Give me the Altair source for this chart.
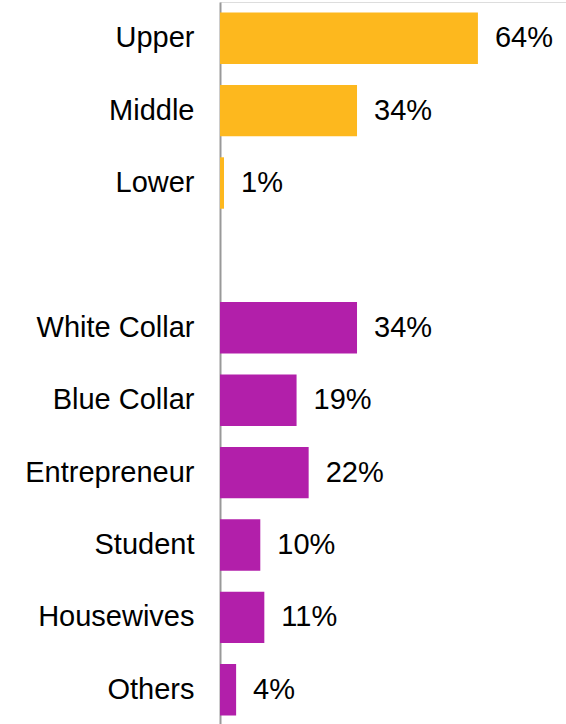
import altair as alt
import pandas as pd

categories = ["Upper", "Middle", "Lower", " ", "White Collar", "Blue Collar",
              "Entrepreneur", "Student", "Housewives", "Others"]
bar_categories = ["Upper", "Middle", "Lower", "White Collar", "Blue Collar",
                  "Entrepreneur", "Student", "Housewives", "Others"]
values = [64, 34, 1, 34, 19, 22, 10, 11, 4]
groups = ["Class", "Class", "Class", "Occupation", "Occupation", "Occupation",
          "Occupation", "Occupation", "Occupation"]

df = pd.DataFrame({"cat": bar_categories, "val": values, "grp": groups})
df["label"] = df["val"].astype(str) + "%"

W = 346
H = 724
FS = 29
xscale = alt.Scale(domain=[0, W / 4.03], nice=False, zero=True)
yscale = alt.Scale(domain=categories, paddingInner=0.29, paddingOuter=0.145)

base = alt.Chart(df).encode(
    y=alt.Y("cat:N", scale=yscale, sort=categories,
            axis=alt.Axis(title=None, ticks=False, labelPadding=26, labelFontSize=FS,
                          labelFont="Liberation Sans", labelColor="#000000",
                          domainColor="#999999", domainWidth=2, labelLimit=300))
)

bars = base.mark_bar().encode(
    x=alt.X("val:Q", scale=xscale, axis=None),
    color=alt.Color("grp:N", scale=alt.Scale(domain=["Class", "Occupation"],
                                             range=["#FDB81E", "#B21FAA"]), legend=None),
)

labels = base.mark_text(align="left", baseline="middle", dx=17, fontSize=FS,
                        font="Liberation Sans", color="#000000").encode(
    x=alt.X("val:Q", scale=xscale, axis=None),
    text="label:N",
)

chart = (bars + labels).properties(
    width=W, height=H,
    autosize=alt.AutoSizeParams(type="none"),
    padding={"left": 220, "top": 2, "right": 0, "bottom": 0},
).configure_view(stroke=None).configure(background="white")

chart.save("out.html", embed_options={"renderer": "svg", "actions": False})
